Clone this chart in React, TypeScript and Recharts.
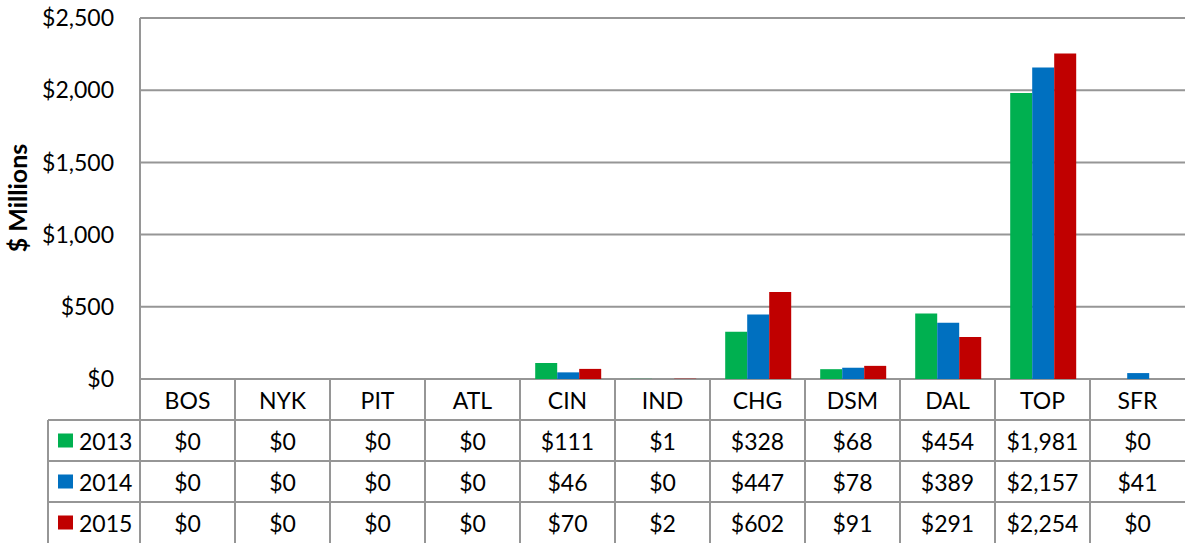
import React from 'react';
import { BarChart, Bar, XAxis, YAxis, CartesianGrid } from 'recharts';

const categories = ['BOS', 'NYK', 'PIT', 'ATL', 'CIN', 'IND', 'CHG', 'DSM', 'DAL', 'TOP', 'SFR'];
const values2013 = [0, 0, 0, 0, 111, 1, 328, 68, 454, 1981, 0];
const values2014 = [0, 0, 0, 0, 46, 0, 447, 78, 389, 2157, 41];
const values2015 = [0, 0, 0, 0, 70, 2, 602, 91, 291, 2254, 0];
const yTicks = [0, 500, 1000, 1500, 2000, 2500];

const series = [
  { key: 'y2013', label: '2013', color: '#00B050', values: values2013 },
  { key: 'y2014', label: '2014', color: '#0070C0', values: values2014 },
  { key: 'y2015', label: '2015', color: '#C00000', values: values2015 },
];

const data = categories.map((name, i) => ({
  name,
  y2013: values2013[i],
  y2014: values2014[i],
  y2015: values2015[i],
}));

const W = 1185;
const H = 543;
const PLOT_LEFT = 140;
const AXIS_H = 164;
const ROW_H = 41;
const GRID = '#969696';
const FONT = 'Lato, "Open Sans", sans-serif';

const money = (v: number) => `$${v.toLocaleString('en-US')}`;

// each x tick draws one column of the data table under the plot
const TableTick = (props: any) => {
  const { x, y, payload, index } = props;
  const colW = (W - PLOT_LEFT) / categories.length;
  const left = x - colW / 2;
  const top = y;
  const bottom = top + AXIS_H;
  return (
    <g>
      <line x1={left} y1={top} x2={left} y2={bottom} stroke={GRID} strokeWidth={2} />
      {[1, 2, 3].map((r) => (
        <line key={r} x1={left} y1={top + r * ROW_H} x2={left + colW} y2={top + r * ROW_H} stroke={GRID} strokeWidth={2} />
      ))}
      <text x={x} y={top + ROW_H / 2} textAnchor="middle" dominantBaseline="central" fontSize={23} fill="#000" fontFamily={FONT}>
        {payload.value}
      </text>
      {series.map((s, r) => (
        <text key={s.key} x={x} y={top + ROW_H * (r + 1.5)} textAnchor="middle" dominantBaseline="central" fontSize={23} fill="#000" fontFamily={FONT}>
          {money(s.values[index])}
        </text>
      ))}
      {index === 0 && (
        <g>
          <line x1={48} y1={top + ROW_H} x2={48} y2={bottom} stroke={GRID} strokeWidth={2} />
          {[1, 2, 3].map((r) => (
            <line key={r} x1={48} y1={top + r * ROW_H} x2={left} y2={top + r * ROW_H} stroke={GRID} strokeWidth={2} />
          ))}
          {series.map((s, r) => (
            <g key={s.key}>
              <rect x={58} y={top + ROW_H * (r + 1.5) - 7} width={15} height={14} fill={s.color} />
              <text x={79} y={top + ROW_H * (r + 1.5)} dominantBaseline="central" fontSize={23} fill="#000" fontFamily={FONT}>
                {s.label}
              </text>
            </g>
          ))}
        </g>
      )}
    </g>
  );
};

export default function App() {
  return (
    <div style={{ position: 'absolute', top: 0, left: 0, width: W, height: H, background: '#fff', fontFamily: FONT }}>
      <BarChart
        width={W}
        height={H}
        data={data}
        margin={{ top: 18, right: 0, bottom: 0, left: 0 }}
        barCategoryGap="16%"
        barGap={0}
      >
        <CartesianGrid vertical={false} stroke={GRID} strokeWidth={2} />
        <XAxis
          dataKey="name"
          height={AXIS_H}
          axisLine={false}
          tickLine={false}
          tickSize={0}
          tickMargin={0}
          interval={0}
          tick={<TableTick />}
        />
        <YAxis
          width={PLOT_LEFT}
          domain={[0, 2500]}
          ticks={yTicks}
          interval={0}
          tickFormatter={money}
          axisLine={{ stroke: GRID, strokeWidth: 2 }}
          tickLine={false}
          tickSize={0}
          tickMargin={26}
          tick={{ fill: '#000', fontSize: 23, fontFamily: FONT }}
          label={{
            content: () => (
              <text
                transform="translate(17,198) rotate(-90)"
                textAnchor="middle"
                dominantBaseline="central"
                fontSize={25}
                fontWeight="bold"
                fill="#000"
                fontFamily={FONT}
              >
                $ Millions
              </text>
            ),
          }}
        />
        {series.map((s) => (
          <Bar key={s.key} dataKey={s.key} fill={s.color} isAnimationActive={false} />
        ))}
      </BarChart>
    </div>
  );
}
